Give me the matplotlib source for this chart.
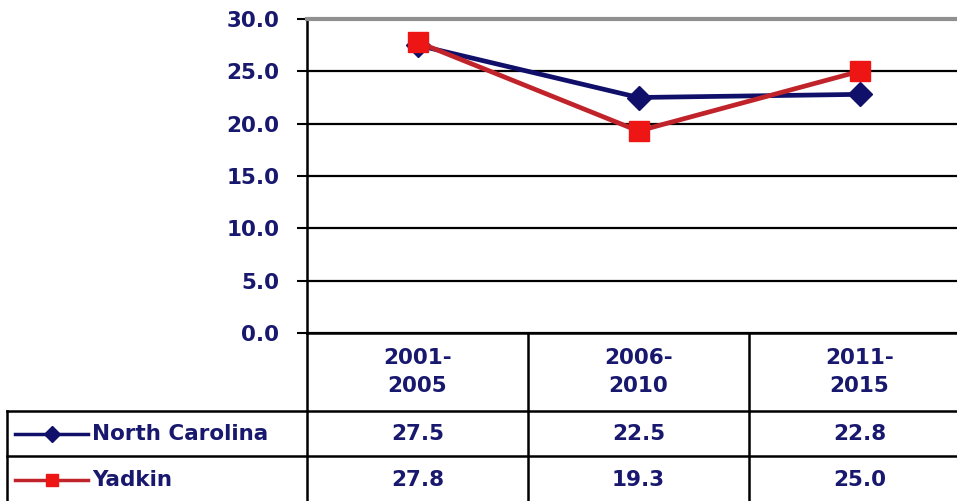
import matplotlib.pyplot as plt
import matplotlib.transforms as mtransforms
from matplotlib.lines import Line2D

categories = ["2001-\n2005", "2006-\n2010", "2011-\n2015"]
series_names = ["North Carolina", "Yadkin"]
north_carolina = [27.5, 22.5, 22.8]
yadkin = [27.8, 19.3, 25.0]
y_ticks = [0, 5, 10, 15, 20, 25, 30]

TXT = "#18186e"
NC_COLOR = "#10106a"
YAD_LINE = "#c0242a"
YAD_MARK = "#ee1515"
FONT = dict(family="DejaVu Sans", fontweight="bold", color=TXT, fontsize=15.5)

W, H = 957, 501
fig = plt.figure(figsize=(W / 100, H / 100), dpi=100)
# plot area in pixels: x 307..970, y 19..333
ax = fig.add_axes([307 / W, (H - 333) / H, 663 / W, 314 / H])

x = list(range(len(categories)))
ax.plot(x, north_carolina, color=NC_COLOR, lw=3.4, marker="D", ms=12,
        mfc=NC_COLOR, mec=NC_COLOR, zorder=4)
ax.plot(x, yadkin, color=YAD_LINE, lw=3.4, marker="s", ms=14,
        mfc=YAD_MARK, mec=YAD_MARK, zorder=5)

ax.set_xlim(-0.5, len(categories) - 0.5)
ax.set_ylim(0, 30)
ax.set_yticks(y_ticks)
ax.set_yticklabels([f"{v:.1f}" for v in y_ticks], **FONT)
ax.set_xticks([])
ax.tick_params(axis="y", length=7, width=1.5, pad=13, color="black")
ax.grid(axis="y", color="black", lw=1.6)
ax.set_axisbelow(True)
ax.spines["right"].set_visible(False)
ax.spines["top"].set_color("#909090")
ax.spines["top"].set_linewidth(3)
ax.spines["left"].set_linewidth(1.8)
ax.spines["bottom"].set_linewidth(1.8)

# data table below the plot
tr = mtransforms.blended_transform_factory(ax.transData, ax.transAxes)
px = 1 / 314  # one pixel in axes fraction (vertical)
cat_w = 221  # pixels per category
left_x = -0.5 - 300 / cat_w
h_bot = -78 * px
r1_bot = -123 * px
r2_bot = -170 * px
right_x = len(categories) - 0.5

line_kw = dict(color="black", lw=1.8, transform=tr, clip_on=False)
# vertical lines
ax.add_line(Line2D([-0.5, -0.5], [0, r2_bot], **line_kw))
for i in range(1, len(categories)):
    ax.add_line(Line2D([i - 0.5, i - 0.5], [0, r2_bot], **line_kw))
ax.add_line(Line2D([left_x, left_x], [h_bot, r2_bot], **line_kw))
# horizontal lines
ax.add_line(Line2D([left_x, right_x], [h_bot, h_bot], **line_kw))
ax.add_line(Line2D([left_x, right_x], [r1_bot, r1_bot], **line_kw))

for i, c in enumerate(categories):
    ax.text(i, h_bot / 2, c, ha="center", va="center", transform=tr,
            linespacing=1.45, **FONT)

rows = [north_carolina, yadkin]
row_mid = [(h_bot + r1_bot) / 2, (r1_bot + r2_bot) / 2]
styles = [(NC_COLOR, NC_COLOR, "D", 8), (YAD_LINE, YAD_MARK, "s", 9)]
for name, vals, ym, (lc, mc, mk, ms) in zip(series_names, rows, row_mid, styles):
    for i, v in enumerate(vals):
        ax.text(i, ym, f"{v:.1f}", ha="center", va="center", transform=tr, **FONT)
    kx0 = left_x + 8 / cat_w
    kx1 = left_x + 81 / cat_w
    ax.add_line(Line2D([kx0, kx1], [ym, ym], color=lc, lw=2.5, transform=tr,
                       clip_on=False))
    ax.add_line(Line2D([(kx0 + kx1) / 2], [ym], color=lc, marker=mk, ms=ms,
                       mfc=mc, mec=mc, transform=tr, clip_on=False))
    ax.text(left_x + 85 / cat_w, ym, name, ha="left", va="center",
            transform=tr, **FONT)

fig.savefig("out.png", dpi=100)
